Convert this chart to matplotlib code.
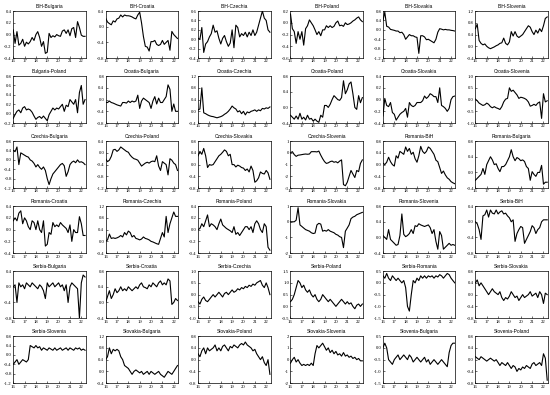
import numpy as np
import pandas as pd
import matplotlib
matplotlib.use("Agg")
import matplotlib.pyplot as plt
import matplotlib.dates as mdates


dates = pd.date_range("2016-01-01", periods=39, freq="2MS")

titles = [
    "BiH-Bulgaria", "BiH-Croatia", "BiH-Czechia", "BiH-Poland", "BiH-Slovakia", "BiH-Slovenia",
    "Bulgaria-Poland", "Croatia-Bulgaria", "Croatia-Czechia", "Croatia-Poland", "Croatia-Slovakia", "Croatia-Slovenia",
    "Czechia-Bulgaria", "Czechia-Poland", "Czechia-Slovakia", "Czechia-Slovenia", "Romania-BiH", "Romania-Bulgaria",
    "Romania-Croatia", "Romania-Czechia", "Romania-Poland", "Romania-Slovakia", "Romania-Slovenia", "Serbia-BiH",
    "Serbia-Bulgaria", "Serbia-Croatia", "Serbia-Czechia", "Serbia-Poland", "Serbia-Romania", "Serbia-Slovakia",
    "Serbia-Slovenia", "Slovakia-Bulgaria", "Slovakia-Poland", "Slovakia-Slovenia", "Slovenia-Bulgaria", "Slovenia-Poland",
]

# row 1
bih_bulgaria = [0.08, -0.15, 0.05, -0.18, -0.15, -0.08, -0.2, -0.13, -0.16, -0.12, -0.05, -0.1, 0.0, 0.05, -0.05,
                -0.2, -0.12, -0.32, -0.3, 0.02, -0.05, -0.02, -0.04, 0.0, -0.02, -0.03, 0.06, 0.08, 0.02, 0.08,
                -0.02, 0.1, 0.12, -0.05, 0.22, 0.12, -0.01, -0.03, -0.03]
bih_croatia = [0.22, 0.12, 0.08, 0.05, 0.15, 0.12, 0.2, 0.22, 0.3, 0.25, 0.3, 0.28, 0.28, 0.27, 0.25, 0.22, 0.2,
               0.3, 0.37, 0.1, -0.25, -0.5, -0.52, -0.62, -0.38, -0.38, -0.35, -0.45, -0.48, -0.45, -0.35, -0.45,
               -0.4, -0.35, -0.6, -0.12, -0.2, -0.25, -0.3]
bih_czechia = [0.02, 0.0, 0.25, -0.28, -0.1, -0.05, 0.05, 0.12, 0.3, 0.15, 0.18, 0.02, -0.1, 0.02, 0.08, -0.05,
               -0.15, -0.08, 0.2, -0.18, 0.3, 0.25, 0.05, 0.12, 0.08, 0.15, 0.05, 0.15, 0.08, 0.2, 0.08, 0.15, 0.3,
               0.45, 0.6, 0.45, 0.4, 0.2, 0.15]
bih_poland = [0.15, -0.1, -0.15, -0.35, -0.15, -0.28, -0.15, -0.38, -0.1, -0.05, 0.05, 0.0, -0.05, -0.12, -0.2,
              -0.15, -0.22, -0.12, -0.12, -0.05, -0.08, -0.05, -0.08, -0.06, 0.0, 0.03, -0.05, -0.04, -0.06, 0.0,
              -0.03, -0.02, 0.0, 0.03, 0.05, 0.08, 0.1, 0.05, 0.02]
bih_slovakia = [0.4, 0.75, 0.15, 0.12, 0.02, 0.0, -0.02, -0.05, -0.05, -0.12, -0.1, -0.2, -0.4, -0.3, -0.2, -0.25,
                -0.25, -0.3, -0.32, -1.0, -0.25, -0.25, -0.3, -0.42, -0.4, -0.45, -0.5, -0.55, -0.4, -0.1, 0.05,
                0.03, 0.0, 0.02, 0.0, 0.0, -0.02, -0.03, -0.05]
bih_slovenia = [0.6, 0.75, 0.2, 0.1, 0.05, 0.08, 0.0, -0.05, -0.08, -0.05, -0.02, 0.02, 0.05, 0.1, 0.12, 0.28, 0.1,
                0.05, 0.15, 0.5, 0.35, 0.5, 0.35, 0.3, 0.35, 0.4, 0.5, 0.6, 0.7, 0.65, 0.5, 0.4, 0.55, 0.45, 0.6,
                0.5, 0.7, 0.95, 1.0]

# row 2
bulgaria_poland = [-0.1, -0.02, 0.05, 0.08, 0.02, 0.12, 0.15, 0.08, 0.1, 0.08, 0.03, -0.05, -0.12, -0.08, -0.06,
                   -0.1, -0.05, -0.1, -0.15, -0.02, 0.05, 0.12, 0.08, 0.12, 0.1, 0.15, 0.2, 0.05, 0.18, 0.15, 0.3,
                   0.25, 0.2, 0.3, 0.02, 0.45, 0.6, 0.2, 0.3]
croatia_bulgaria = [-0.1, -0.1, -0.05, -0.1, -0.12, -0.15, -0.18, -0.2, -0.22, -0.1, -0.1, -0.12, -0.05, -0.1,
                    -0.05, -0.08, -0.05, 0.15, -0.3, -0.05, 0.05, 0.0, -0.05, -0.1, -0.3, -0.05, 0.1, -0.15, 0.05,
                    -0.1, -0.1, 0.0, 0.1, 0.5, 0.35, -0.4, -0.15, -0.4, -0.4]
croatia_czechia = [0.05, 0.08, 0.8, -0.05, -0.08, -0.12, -0.15, -0.17, -0.18, -0.2, -0.22, -0.2, -0.18, -0.15,
                   -0.1, -0.06, 0.0, 0.08, 0.18, 0.12, 0.08, -0.02, 0.02, -0.08, 0.0, -0.12, -0.02, -0.05, 0.0, 0.02,
                   0.05, 0.0, 0.05, 0.02, 0.1, 0.08, 0.12, 0.1, 0.15]
croatia_poland = [-0.2, -0.25, -0.3, -0.22, -0.3, -0.15, -0.3, -0.25, -0.32, -0.2, -0.3, -0.28, -0.35, -0.3, -0.35,
                  -0.38, -0.2, -0.25, 0.05, 0.05, 0.0, 0.08, 0.2, 0.3, 0.25, 0.2, 0.18, 0.25, 0.68, 0.35, 0.45, 0.6,
                  0.65, 0.35, 0.0, -0.05, 0.3, 0.12, 0.25]
croatia_slovakia = [-0.28, 0.02, -0.1, -0.12, -0.05, -0.22, -0.25, -0.35, -0.3, -0.25, -0.22, -0.2, -0.15, -0.3,
                    -0.05, -0.1, -0.12, -0.1, -0.05, -0.05, -0.05, -0.02, 0.06, 0.02, 0.05, 0.1, 0.08, 0.05, 0.05,
                    -0.05, 0.2, -0.1, -0.12, -0.15, -0.2, -0.15, 0.0, 0.05, 0.06]
croatia_slovenia = [0.02, -0.05, -0.15, -0.2, -0.25, -0.22, -0.15, -0.2, -0.3, -0.35, -0.3, -0.35, -0.38, -0.42,
                    -0.3, -0.1, 0.02, 0.05, 0.5, 0.35, 0.4, 0.3, 0.2, 0.05, 0.1, 0.08, 0.05, 0.0, -0.1, -0.28, -0.25,
                    -0.2, -0.25, -0.15, -0.1, -0.8, 0.25, -0.1, -0.05]

# row 3
czechia_bulgaria = [0.4, 0.35, 0.55, -0.2, 0.3, 0.25, 0.2, 0.15, 0.12, 0.0, -0.05, -0.15, -0.3, -0.2, -0.32, -0.4,
                    -0.3, -0.45, -0.8, -1.05, -0.8, -0.6, -0.5, -0.4, -0.3, -0.2, -0.15, -0.25, -0.7, -0.5, -0.2,
                    -0.1, -0.05, -0.12, 0.0, -0.1, -0.08, -0.12, -0.2]
czechia_poland = [-0.2, -0.3, -0.25, -0.12, 0.1, 0.12, 0.05, 0.1, 0.2, 0.15, 0.1, 0.05, 0.02, -0.08, -0.15, -0.2,
                  -0.22, -0.25, -0.35, -0.45, -0.4, -0.35, -0.32, -0.35, -0.3, -0.28, -0.3, -0.1, -0.45, -0.6, -0.3,
                  -0.35, -0.4, -0.75, -0.2, -0.25, -0.35, -0.4, -0.6]
czechia_slovakia = [0.3, 0.45, 0.35, 0.55, 0.3, -0.1, 0.0, -0.02, 0.0, 0.1, 0.2, 0.3, 0.35, 0.42, 0.5, 0.45, 0.3,
                    0.35, 0.0, 0.0, -0.08, -0.02, -0.05, -0.1, -0.12, -0.2, -0.15, -0.25, -0.05, -0.2, -0.6, -0.55,
                    -0.45, -0.25, -0.3, -0.32, -0.2, -0.28, -0.5]
czechia_slovenia = [0.0, 0.1, -0.15, -0.3, -0.2, -0.18, -0.15, -0.12, -0.1, -0.12, -0.1, 0.1, 0.1, 0.1, 0.08, 0.15,
                    -0.2, -0.5, -0.75, -0.9, -0.85, -0.75, -0.7, -0.8, -0.75, -0.85, -0.7, -0.6, -2.7, -2.8, -2.5,
                    -2.0, -1.5, -1.8, -2.1, -1.5, -1.6, -0.9, -0.6]
romania_bih = [0.05, 0.0, 0.08, 0.25, 0.1, 0.0, -0.05, 0.3, 0.22, 0.45, 0.4, 0.35, 0.6, 0.45, 0.55, 0.35, 0.42, 0.2,
               0.08, 0.3, 0.62, 0.45, 0.38, 0.45, 0.6, 0.55, 0.45, 0.35, 0.15, 0.1, -0.1, -0.3, -0.22, -0.35, -0.45,
               -0.5, -0.58, -0.62, -0.65]
romania_bulgaria = [-0.2, -0.15, -0.1, -0.05, 0.1, -0.05, 0.2, 0.3, 0.4, 0.32, 0.2, 0.22, 0.1, 0.02, 0.15, 0.15, 0.2,
                    0.3, 0.4, 0.58, 0.4, 0.3, 0.38, 0.35, 0.3, 0.32, 0.28, 0.15, 0.1, -0.2, 0.02, -0.05, -0.1, 0.0,
                    0.0, 0.18, -0.3, -0.25, -0.25]

# row 4
romania_croatia = [0.15, 0.2, 0.15, 0.28, 0.32, 0.1, 0.2, 0.15, 0.05, 0.0, 0.15, 0.12, 0.0, 0.15, 0.0, -0.05, 0.15,
                   -0.28, -0.25, -0.05, -0.08, 0.12, 0.05, 0.08, 0.05, 0.12, 0.08, 0.05, 0.02, -0.05, 0.08, -0.2, 0.0,
                   -0.05, -0.05, 0.22, 0.1, -0.1, -0.1]
romania_czechia = [0.0, 0.05, 0.25, 0.1, 0.12, 0.1, 0.12, 0.15, 0.2, 0.15, 0.3, 0.22, 0.35, 0.3, 0.15, 0.2, 0.1,
                   0.08, 0.05, 0.08, 0.15, 0.1, 0.08, 0.05, 0.0, -0.02, -0.05, -0.08, -0.1, 0.1, 0.3, 0.15, 0.85, 0.3,
                   0.6, 0.8, 1.0, 0.85, 0.85]
romania_poland = [0.0, 0.02, 0.1, 0.05, 0.15, 0.25, 0.05, 0.1, 0.08, 0.05, 0.0, 0.1, 0.18, 0.08, 0.05, 0.02, 0.0,
                  -0.02, -0.05, 0.05, -0.08, -0.05, -0.1, -0.05, 0.0, 0.05, 0.05, 0.0, 0.05, -0.05, 0.1, 0.15, 0.1,
                  0.0, -0.05, 0.1, 0.05, -0.3, -0.35]
romania_slovakia = [0.0, 0.0, 0.0, 0.1, 0.9, -0.2, -0.3, -0.4, -0.5, -0.55, -0.6, -0.7, -0.75, -0.72, -0.2, -0.1,
                    -0.15, -0.6, -0.55, -0.6, -0.5, -0.6, -0.65, -0.7, -0.8, -0.85, -0.95, -1.0, -1.65, -0.6, -0.4,
                    -0.2, 0.2, 0.3, 0.35, 0.45, 0.5, 0.55, 0.6]
romania_slovenia = [0.05, 0.0, -0.05, 0.2, -0.05, -0.1, -0.15, -0.2, -0.18, 0.05, 0.6, 0.08, 0.02, 0.05, 0.1, 0.2,
                    0.1, 0.3, 0.28, 0.35, 0.32, 0.3, 0.28, 0.3, 0.32, 0.25, 0.1, 0.2, -0.1, -0.3, 0.15, 0.05, -0.3,
                    -0.25, -0.2, -0.15, -0.2, -0.18, -0.2]
serbia_bih = [0.0, -0.05, -0.2, -0.45, 0.15, 0.18, 0.3, 0.12, 0.3, 0.22, 0.2, 0.3, 0.2, 0.25, 0.28, 0.2, 0.22, 0.15,
              0.1, 0.0, 0.05, -0.5, -0.3, -0.2, -0.12, -0.15, -0.55, -0.45, -0.35, -0.25, -0.1, -0.15, -0.3, -0.2,
              -0.15, 0.0, 0.05, 0.05, 0.05]

# row 5
serbia_bulgaria = [0.0, 0.05, -0.4, 0.1, 0.0, 0.05, -0.05, 0.1, 0.05, 0.0, 0.1, 0.05, 0.0, -0.05, 0.05, 0.0, -0.1,
                   -0.3, 0.1, 0.0, 0.05, 0.1, 0.0, 0.05, 0.1, 0.0, 0.05, -0.1, 0.05, -0.4, 0.0, 0.1, 0.05, 0.0, -0.05,
                   -0.8, 0.1, 0.3, 0.25]
serbia_croatia = [0.0, 0.15, 0.3, 0.1, 0.2, 0.35, 0.25, 0.3, 0.4, 0.3, 0.35, 0.3, 0.4, 0.35, 0.3, 0.35, 0.4, 0.35,
                  0.45, 0.5, 0.4, 0.38, 0.35, 0.45, 0.4, 0.5, 0.45, 0.4, 0.5, 0.55, 0.45, 0.5, 0.45, 0.6, 0.55, -0.05,
                  0.0, 0.1, 0.05]
serbia_czechia = [-0.3, -0.4, -0.2, -0.1, -0.25, -0.3, -0.2, -0.1, 0.0, -0.1, 0.0, 0.1, 0.0, -0.1, 0.05, 0.1, 0.0,
                  0.1, 0.2, 0.1, 0.15, 0.25, 0.2, 0.3, 0.25, 0.35, 0.3, 0.4, 0.35, 0.45, 0.4, 0.5, 0.55, 0.6, 0.4, 0.3,
                  0.5, 0.3, 0.0]
serbia_poland = [0.2, 0.3, 0.5, 0.8, 1.1, 1.0, 0.8, 0.9, 0.7, 0.6, 0.7, 0.5, 0.4, 0.5, 0.3, 0.2, 0.3, 0.5, 0.4, 0.3,
                 0.2, 0.3, 0.2, 0.1, 0.0, 0.1, 0.2, 0.3, 0.2, 0.1, 0.2, 0.1, 0.15, 0.0, -0.1, 0.05, 0.1, 0.0, 0.1]
serbia_romania = [0.3, 0.2, 0.4, 0.2, 0.1, 0.3, 0.2, 0.1, 0.2, 0.1, 0.0, 0.1, -0.2, -1.0, -1.2, -0.5, 0.1, 0.0, 0.2,
                  0.1, 0.3, 0.2, 0.3, 0.2, 0.3, 0.25, 0.3, 0.2, 0.3, 0.25, 0.35, 0.3, 0.2, 0.3, 0.4, 0.35, 0.2, 0.1,
                  0.0]
serbia_slovakia = [0.4, 0.5, 0.3, 0.4, 0.3, 0.2, 0.1, 0.0, 0.1, 0.2, 0.1, 0.05, 0.0, 0.1, -0.1, -0.2, -0.1, -0.15,
                   -0.05, 0.1, 0.0, -0.1, -0.05, -0.2, -0.1, 0.0, -0.1, -0.05, 0.0, 0.1, -0.05, 0.0, 0.05, -0.1, 0.1,
                   0.0, -0.3, 0.05, 0.0]

# row 6
serbia_slovenia = [-0.4, -0.3, -0.2, -0.4, -0.3, -0.2, -0.25, -0.3, -0.2, 0.4, 0.35, 0.3, 0.4, 0.3, 0.35, 0.2, 0.3,
                   0.25, 0.2, 0.3, 0.25, 0.2, 0.3, 0.2, 0.25, 0.3, 0.2, 0.25, 0.3, 0.2, 0.3, 0.25, 0.2, 0.3, 0.25, 0.3,
                   0.2, 0.25, 0.2]
slovakia_bulgaria = [0.4, 0.5, 0.8, 0.6, 0.75, 0.7, 0.75, 0.7, 0.5, 0.4, 0.2, 0.15, 0.1, 0.0, -0.1, 0.0, 0.05, 0.0,
                     -0.05, 0.0, -0.1, -0.05, 0.0, -0.1, 0.0, -0.05, -0.1, -0.05, 0.0, -0.1, -0.15, -0.2, -0.1, 0.0,
                     -0.05, -0.1, 0.0, 0.1, 0.2]
slovakia_poland = [0.2, 0.1, 0.3, 0.4, 0.2, 0.4, 0.3, 0.35, 0.4, 0.5, 0.3, 0.4, 0.3, 0.45, 0.5, 0.4, 0.3, 0.45, 0.4,
                   0.5, 0.45, 0.4, 0.5, 0.55, 0.5, 0.6, 0.5, 0.45, 0.4, 0.3, 0.35, 0.2, 0.1, 0.0, 0.1, -0.1, -0.2,
                   0.0, -0.5]
slovakia_slovenia = [-0.3, 0.0, 0.2, -0.2, 0.0, -0.3, -0.5, -0.4, -0.5, -0.4, -0.5, -0.3, -0.5, 0.5, 1.2, 1.0, 1.2,
                     1.4, 1.1, 0.8, 1.0, 0.6, 0.8, 0.5, 0.7, 0.4, 0.5, 0.3, 0.6, 0.3, 0.4, 0.2, 0.3, 0.1, 0.2, 0.0,
                     0.1, -0.1, -0.1]
slovenia_bulgaria = [0.0, 0.2, 0.0, -0.5, -0.6, -0.7, -0.5, -0.4, -0.3, -0.5, -0.4, -0.3, -0.4, -0.5, -0.3, -0.4,
                     -0.6, -0.5, -0.4, -0.5, -0.6, -0.5, -0.4, -0.6, -0.5, -0.7, -0.6, -0.5, -0.6, -0.7, -0.6, -0.5,
                     -0.6, -0.7, -0.8, -0.2, 0.1, 0.2, 0.2]
slovenia_poland = [0.1, 0.05, 0.0, 0.1, 0.05, 0.0, -0.05, 0.0, 0.05, 0.0, -0.05, 0.0, -0.1, -0.2, -0.1, -0.15, -0.2,
                   -0.1, -0.2, -0.3, -0.2, -0.25, -0.4, -0.3, -0.35, -0.25, -0.3, -0.2, -0.25, -0.3, -0.15, -0.1,
                   -0.2, -0.15, -0.1, -0.2, 0.2, 0.05, -0.7]

series = [
    bih_bulgaria, bih_croatia, bih_czechia, bih_poland, bih_slovakia, bih_slovenia,
    bulgaria_poland, croatia_bulgaria, croatia_czechia, croatia_poland, croatia_slovakia, croatia_slovenia,
    czechia_bulgaria, czechia_poland, czechia_slovakia, czechia_slovenia, romania_bih, romania_bulgaria,
    romania_croatia, romania_czechia, romania_poland, romania_slovakia, romania_slovenia, serbia_bih,
    serbia_bulgaria, serbia_croatia, serbia_czechia, serbia_poland, serbia_romania, serbia_slovakia,
    serbia_slovenia, slovakia_bulgaria, slovakia_poland, slovakia_slovenia, slovenia_bulgaria, slovenia_poland,
]

# y tick sets per panel (axis limits = first/last tick)
yticks = [
    [-0.4, -0.2, 0.0, 0.2, 0.4], [-0.8, -0.4, 0.0, 0.4], [-0.4, -0.2, 0.0, 0.2, 0.4, 0.6],
    [-0.6, -0.4, -0.2, 0.0, 0.2], [-1.2, -0.8, -0.4, 0.0, 0.4, 0.8], [-0.4, 0.0, 0.4, 0.8, 1.2],
    [-0.2, 0.0, 0.2, 0.4, 0.6, 0.8], [-0.8, -0.4, 0.0, 0.4, 0.8], [-0.4, 0.0, 0.4, 0.8, 1.2],
    [-0.4, 0.0, 0.4, 0.8], [-0.4, -0.2, 0.0, 0.2, 0.4], [-1.0, -0.5, 0.0, 0.5, 1.0],
    [-1.2, -0.8, -0.4, 0.0, 0.4, 0.8], [-1.2, -0.8, -0.4, 0.0, 0.4], [-0.8, -0.4, 0.0, 0.4, 0.8],
    [-3, -2, -1, 0, 1], [-0.8, -0.4, 0.0, 0.4, 0.8], [-0.4, 0.0, 0.4, 0.8],
    [-0.4, -0.2, 0.0, 0.2, 0.4], [-0.4, 0.0, 0.4, 0.8, 1.2], [-0.4, -0.2, 0.0, 0.2, 0.4],
    [-2, -1, 0, 1], [-0.4, 0.0, 0.4, 0.8], [-0.8, -0.4, 0.0, 0.4],
    [-0.8, -0.4, 0.0, 0.4], [-0.4, 0.0, 0.4, 0.8], [-1.0, -0.5, 0.0, 0.5, 1.0],
    [-0.5, 0.0, 0.5, 1.0, 1.5], [-1.5, -1.0, -0.5, 0.0, 0.5], [-0.8, -0.4, 0.0, 0.4, 0.8],
    [-1.2, -0.8, -0.4, 0.0, 0.4, 0.8], [-0.4, 0.0, 0.4, 0.8, 1.2], [-0.8, -0.4, 0.0, 0.4, 0.8],
    [-2, -1, 0, 1, 2], [-1.5, -1.0, -0.5, 0.0, 0.5], [-0.8, -0.4, 0.0, 0.4, 0.8],
]


def fmt_tick(v, ticks):
    if all(float(t).is_integer() for t in ticks):
        return "%d" % v
    return "%.1f" % v


fig, axes = plt.subplots(6, 6, figsize=(5.5, 3.95), dpi=100)
fig.subplots_adjust(left=0.024, right=0.996, top=0.972, bottom=0.03, wspace=0.276, hspace=0.383)

for ax, title, vals, ticks in zip(axes.flat, titles, series, yticks):
    ax.plot(dates, vals, color="black", linewidth=0.8)
    ax.set_xlim(pd.Timestamp("2016-01-01"), pd.Timestamp("2022-05-20"))
    ax.set_ylim(ticks[0], ticks[-1])
    ax.set_yticks(ticks)
    ax.set_yticklabels([fmt_tick(t, ticks) for t in ticks], family="Liberation Serif", fontsize=3.4)
    ax.xaxis.set_major_locator(mdates.YearLocator())
    ax.xaxis.set_major_formatter(mdates.DateFormatter("%y"))
    for lab in ax.get_xticklabels():
        lab.set_family("Liberation Serif")
        lab.set_fontsize(3.4)
    ax.tick_params(direction="in", length=1.5, width=0.4, pad=1)
    for sp in ax.spines.values():
        sp.set_linewidth(0.5)
    ax.set_title(title, fontsize=3.5, family="Liberation Sans", pad=2.5)

fig.savefig("out.png", dpi=100)
